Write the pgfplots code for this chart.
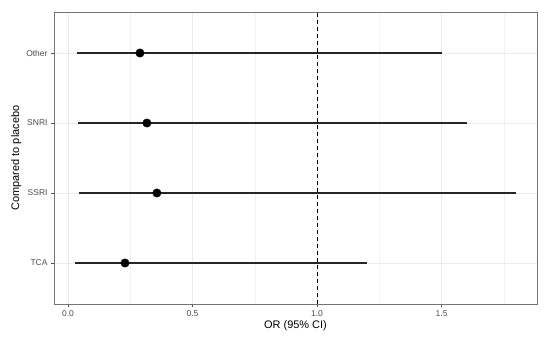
\documentclass[border=0pt]{standalone}
\usepackage{pgfplots}
\pgfplotsset{compat=1.18}
\usepackage{fontspec}
\setmainfont{Liberation Sans}
\definecolor{gridmaj}{gray}{0.92}
\definecolor{gridmin}{gray}{0.95}
\definecolor{frame}{gray}{0.45}
\definecolor{ticktxt}{gray}{0.30}
\begin{document}
\begin{tikzpicture}
\useasboundingbox (-54bp,-33bp) rectangle (496bp,304bp);
\begin{axis}[
  at={(0,0)}, anchor=south west,
  scale only axis, width=483bp, height=292bp,
  xmin=-0.056, xmax=1.883, ymin=0.414, ymax=4.586,
  xtick={0,0.5,1,1.5}, xticklabels={0.0,0.5,1.0,1.5},
  minor xtick={0.25,0.75,1.25,1.75},
  ytick={1,2,3,4}, yticklabels={TCA,SSRI,SNRI,Other},
  xtick pos=bottom, ytick pos=left,
  grid=both,
  major grid style={gridmaj, line width=0.8bp},
  minor grid style={gridmin, line width=0.5bp},
  axis line style={frame, line width=0.8bp},
  tick align=outside, major tick length=3bp, minor tick length=0pt,
  tick style={ticktxt, line width=0.6bp},
  ticklabel style={font=\fontsize{8.5}{10}\selectfont, text=ticktxt},
  /pgf/number format/assume math mode=true,
  xlabel={OR (95\% CI)}, ylabel={Compared to placebo},
  label style={font=\fontsize{11}{13}\selectfont},
  xlabel style={yshift=3bp},
  ylabel style={yshift=-2bp},
  clip=false,
]
\addplot[black, dashed, dash pattern=on 4bp off 3bp, line width=0.8bp] coordinates {(1,0.414) (1,4.586)};
\addplot[only marks, mark=*, mark size=4.2bp, black,
  error bars/.cd, x dir=both, x explicit, error mark=none,
  error bar style={black!85, line width=1.3bp}]
  table[x=or, y=y, x error plus=ep, x error minus=em] {
  y or em ep
  1 0.229 0.201 0.971
  2 0.357 0.313 1.443
  3 0.317 0.277 1.283
  4 0.289 0.253 1.211
};
\end{axis}
\end{tikzpicture}
\end{document}
